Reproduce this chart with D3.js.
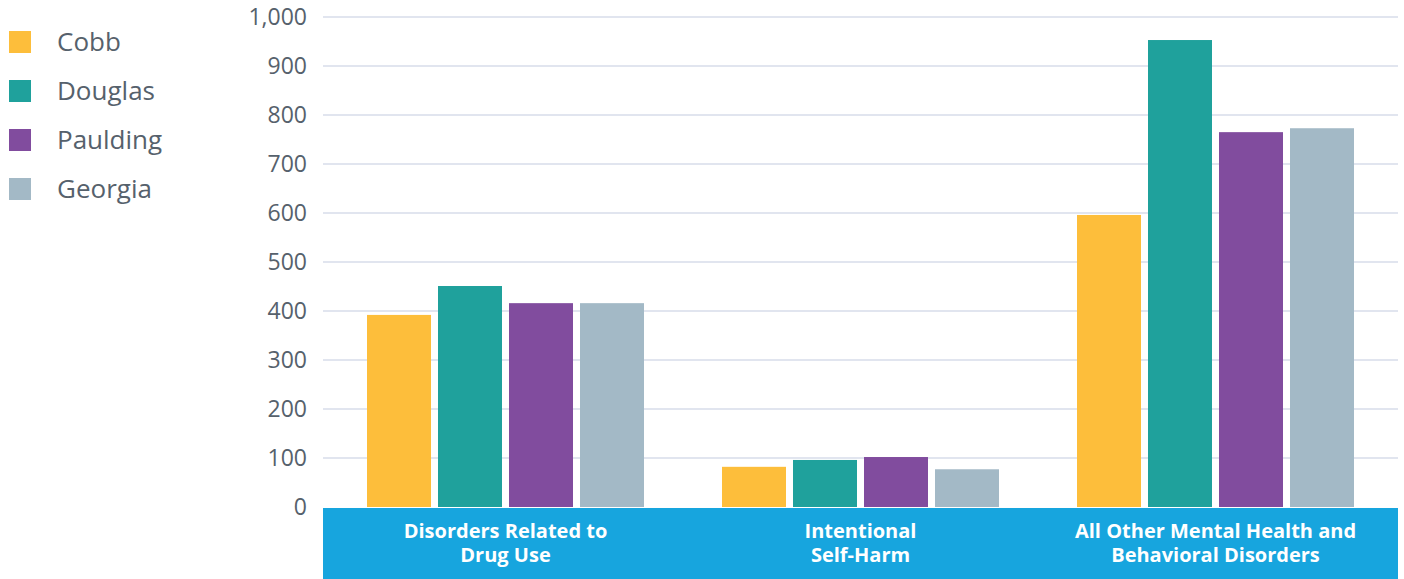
<!DOCTYPE html>
<html>
<head>
<meta charset="utf-8">
<script src="https://cdn.jsdelivr.net/npm/d3@7"></script>
<style>
  body { margin: 0; background: #fff; }
  svg { font-family: "Open Sans", sans-serif; display: block; }
</style>
</head>
<body>
<div id="chart"></div>
<script>
// chart data
var categories = [
  ["Disorders Related to", "Drug Use"],
  ["Intentional", "Self-Harm"],
  ["All Other Mental Health and", "Behavioral Disorders"]
];
var seriesNames = ["Cobb", "Douglas", "Paulding", "Georgia"];
var seriesColors = ["#fdbe3b", "#1fa19c", "#814c9e", "#a3b9c6"];
var cobb = [392, 82, 596];
var douglas = [451, 96, 953];
var paulding = [416, 102, 765];
var georgia = [416, 77, 773];
var yTicks = [0, 100, 200, 300, 400, 500, 600, 700, 800, 900, 1000];

var values = [cobb, douglas, paulding, georgia];

var W = 1404, H = 579;

var svg = d3.select("#chart")
  .append("svg")
    .attr("width", W)
    .attr("height", H);

// scales
var x = d3.scaleBand()
  .domain(d3.range(categories.length))
  .range([328, 1393]);

// bars 64px wide, 7px apart
var xs = d3.scaleBand()
  .domain(seriesNames)
  .range([0, x.bandwidth()])
  .paddingInner(7 / 71)
  .paddingOuter(39 / 71);

var y = d3.scaleLinear()
  .domain([0, 1000])
  .range([507, 17]);

// gridlines
svg.append("g")
  .selectAll("line")
  .data(yTicks.slice(1))
  .enter().append("line")
    .attr("x1", 323)
    .attr("x2", 1398)
    .attr("y1", function(d) { return y(d); })
    .attr("y2", function(d) { return y(d); })
    .attr("stroke", "#e1e5ef")
    .attr("stroke-width", 2);

// y axis labels
var yAxis = svg.append("g")
  .attr("transform", "translate(307,0)")
  .call(d3.axisLeft(y).tickValues(yTicks).tickSize(0).tickPadding(0).tickFormat(d3.format(",")));
yAxis.select(".domain").remove();
yAxis.selectAll("text")
  .attr("fill", "#56616c")
  .style("font-size", "23px")
  .style("font-family", "'Open Sans', sans-serif");

// bars
seriesNames.forEach(function(name, si) {
  svg.append("g")
    .selectAll("rect")
    .data(values[si])
    .enter().append("rect")
      .attr("x", function(d, i) { return x(i) + xs(name); })
      .attr("y", function(d) { return y(d); })
      .attr("width", xs.bandwidth())
      .attr("height", function(d) { return y(0) - y(d); })
      .attr("fill", seriesColors[si]);
});

// category band
svg.append("rect")
  .attr("x", 323)
  .attr("y", 508)
  .attr("width", 1398 - 323)
  .attr("height", H - 508)
  .attr("fill", "#17a5de");

// category labels, one text per line
categories.forEach(function(lines, i) {
  svg.append("g")
    .selectAll("text")
    .data(lines)
    .enter().append("text")
      .attr("x", x(i) + x.bandwidth() / 2)
      .attr("y", function(d, j) { return 538 + j * 24; })
      .attr("text-anchor", "middle")
      .attr("fill", "#fff")
      .style("font-size", "20px")
      .style("font-weight", "bold")
      .text(function(d) { return d; });
});

// legend
var legend = svg.append("g")
  .selectAll("g")
  .data(seriesNames)
  .enter().append("g")
    .attr("transform", function(d, i) { return "translate(9," + (31 + i * 49) + ")"; });
legend.append("rect")
  .attr("width", 22)
  .attr("height", 22)
  .attr("fill", function(d, i) { return seriesColors[i]; });
legend.append("text")
  .attr("x", 48)
  .attr("y", 11)
  .attr("dy", "0.35em")
  .attr("fill", "#56616c")
  .style("font-size", "26px")
  .text(function(d) { return d; });
</script>
</body>
</html>
